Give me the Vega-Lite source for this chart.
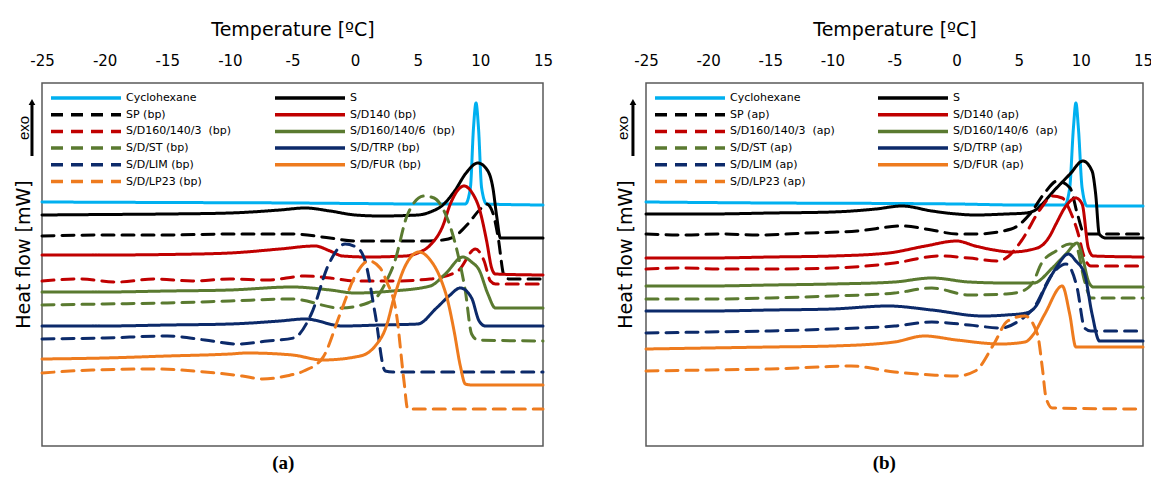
{
"$schema": "https://vega.github.io/schema/vega-lite/v6.json",
"background": "white",
"padding": {"left": 13, "top": 19, "right": 5, "bottom": 5},
"config": {"view": {"stroke": "#595959", "strokeWidth": 1.5}, "font": "DejaVu Sans"},
"spacing": 61,
"resolve": {"scale": {"color": "independent", "strokeDash": "independent"}, "legend": {"color": "independent", "strokeDash": "independent"}},
"datasets": {
"a": [
{"s":"Cyclohexane","t":-25,"v":244},{"s":"Cyclohexane","t":-15,"v":243.5},{"s":"Cyclohexane","t":-5,"v":243},{"s":"Cyclohexane","t":0,"v":242.5},{"s":"Cyclohexane","t":5,"v":242},{"s":"Cyclohexane","t":8.8,"v":242},{"s":"Cyclohexane","t":9.2,"v":258},{"s":"Cyclohexane","t":9.45,"v":318},{"s":"Cyclohexane","t":9.65,"v":343},{"s":"Cyclohexane","t":9.85,"v":318},{"s":"Cyclohexane","t":10.1,"v":258},{"s":"Cyclohexane","t":10.5,"v":242},{"s":"Cyclohexane","t":15,"v":241},
{"s":"S","t":-25,"v":231},{"s":"S","t":-20,"v":231.5},{"s":"S","t":-15,"v":232},{"s":"S","t":-10,"v":233},{"s":"S","t":-6,"v":236},{"s":"S","t":-4,"v":238},{"s":"S","t":-2,"v":235},{"s":"S","t":0,"v":231},{"s":"S","t":2,"v":230},{"s":"S","t":5,"v":231},{"s":"S","t":6,"v":234},{"s":"S","t":7,"v":241},{"s":"S","t":8,"v":256},{"s":"S","t":8.8,"v":272},{"s":"S","t":9.8,"v":283},{"s":"S","t":10.6,"v":275},{"s":"S","t":11,"v":258},{"s":"S","t":11.3,"v":230},{"s":"S","t":11.6,"v":208},{"s":"S","t":12.5,"v":208},{"s":"S","t":15,"v":208},
{"s":"SP (bp)","t":-25,"v":210},{"s":"SP (bp)","t":-20,"v":211},{"s":"SP (bp)","t":-15,"v":211},{"s":"SP (bp)","t":-10,"v":212},{"s":"SP (bp)","t":-5,"v":212},{"s":"SP (bp)","t":-2,"v":208},{"s":"SP (bp)","t":0,"v":205},{"s":"SP (bp)","t":3,"v":205},{"s":"SP (bp)","t":5.5,"v":205},{"s":"SP (bp)","t":7,"v":206},{"s":"SP (bp)","t":8,"v":210},{"s":"SP (bp)","t":9,"v":222},{"s":"SP (bp)","t":10,"v":237},{"s":"SP (bp)","t":10.5,"v":242},{"s":"SP (bp)","t":11,"v":233},{"s":"SP (bp)","t":11.4,"v":210},{"s":"SP (bp)","t":11.9,"v":170},{"s":"SP (bp)","t":12.3,"v":167},{"s":"SP (bp)","t":15,"v":167},
{"s":"S/D140 (bp)","t":-25,"v":191},{"s":"S/D140 (bp)","t":-20,"v":191},{"s":"S/D140 (bp)","t":-15,"v":191.5},{"s":"S/D140 (bp)","t":-10,"v":193},{"s":"S/D140 (bp)","t":-6,"v":197},{"s":"S/D140 (bp)","t":-3.2,"v":200},{"s":"S/D140 (bp)","t":-2,"v":195},{"s":"S/D140 (bp)","t":-1,"v":190},{"s":"S/D140 (bp)","t":1,"v":189},{"s":"S/D140 (bp)","t":4,"v":190},{"s":"S/D140 (bp)","t":5,"v":193},{"s":"S/D140 (bp)","t":6,"v":201},{"s":"S/D140 (bp)","t":7,"v":220},{"s":"S/D140 (bp)","t":7.6,"v":242},{"s":"S/D140 (bp)","t":8.7,"v":260},{"s":"S/D140 (bp)","t":9.4,"v":252},{"s":"S/D140 (bp)","t":9.9,"v":238},{"s":"S/D140 (bp)","t":10.5,"v":205},{"s":"S/D140 (bp)","t":10.9,"v":178},{"s":"S/D140 (bp)","t":11.2,"v":172},{"s":"S/D140 (bp)","t":15,"v":171},
{"s":"S/D160/140/3\u00a0 (bp)","t":-25,"v":165},{"s":"S/D160/140/3\u00a0 (bp)","t":-22,"v":167},{"s":"S/D160/140/3\u00a0 (bp)","t":-19,"v":164},{"s":"S/D160/140/3\u00a0 (bp)","t":-16,"v":167},{"s":"S/D160/140/3\u00a0 (bp)","t":-13,"v":165},{"s":"S/D160/140/3\u00a0 (bp)","t":-10,"v":167},{"s":"S/D160/140/3\u00a0 (bp)","t":-7,"v":166},{"s":"S/D160/140/3\u00a0 (bp)","t":-4,"v":170},{"s":"S/D160/140/3\u00a0 (bp)","t":-2,"v":168},{"s":"S/D160/140/3\u00a0 (bp)","t":0,"v":165},{"s":"S/D160/140/3\u00a0 (bp)","t":3,"v":165},{"s":"S/D160/140/3\u00a0 (bp)","t":6,"v":167},{"s":"S/D160/140/3\u00a0 (bp)","t":8.2,"v":175},{"s":"S/D160/140/3\u00a0 (bp)","t":9.6,"v":197},{"s":"S/D160/140/3\u00a0 (bp)","t":10.3,"v":185},{"s":"S/D160/140/3\u00a0 (bp)","t":10.8,"v":165},{"s":"S/D160/140/3\u00a0 (bp)","t":11.2,"v":162},{"s":"S/D160/140/3\u00a0 (bp)","t":15,"v":162},
{"s":"S/D160/140/6\u00a0 (bp)","t":-25,"v":154},{"s":"S/D160/140/6\u00a0 (bp)","t":-20,"v":154},{"s":"S/D160/140/6\u00a0 (bp)","t":-15,"v":155},{"s":"S/D160/140/6\u00a0 (bp)","t":-10,"v":156},{"s":"S/D160/140/6\u00a0 (bp)","t":-5,"v":159},{"s":"S/D160/140/6\u00a0 (bp)","t":-2,"v":156},{"s":"S/D160/140/6\u00a0 (bp)","t":0,"v":153},{"s":"S/D160/140/6\u00a0 (bp)","t":3,"v":155},{"s":"S/D160/140/6\u00a0 (bp)","t":6,"v":160},{"s":"S/D160/140/6\u00a0 (bp)","t":7.2,"v":172},{"s":"S/D160/140/6\u00a0 (bp)","t":8.6,"v":189},{"s":"S/D160/140/6\u00a0 (bp)","t":9.3,"v":184},{"s":"S/D160/140/6\u00a0 (bp)","t":9.9,"v":176},{"s":"S/D160/140/6\u00a0 (bp)","t":10.6,"v":152},{"s":"S/D160/140/6\u00a0 (bp)","t":11.2,"v":138},{"s":"S/D160/140/6\u00a0 (bp)","t":15,"v":138},
{"s":"S/D/ST (bp)","t":-25,"v":141},{"s":"S/D/ST (bp)","t":-20,"v":142},{"s":"S/D/ST (bp)","t":-15,"v":143},{"s":"S/D/ST (bp)","t":-10,"v":145},{"s":"S/D/ST (bp)","t":-5,"v":147},{"s":"S/D/ST (bp)","t":-1.2,"v":138},{"s":"S/D/ST (bp)","t":1,"v":143},{"s":"S/D/ST (bp)","t":1.8,"v":150},{"s":"S/D/ST (bp)","t":2.5,"v":165},{"s":"S/D/ST (bp)","t":3.1,"v":182},{"s":"S/D/ST (bp)","t":4.2,"v":232},{"s":"S/D/ST (bp)","t":5.5,"v":250},{"s":"S/D/ST (bp)","t":6.3,"v":248},{"s":"S/D/ST (bp)","t":7.1,"v":235},{"s":"S/D/ST (bp)","t":8.2,"v":192},{"s":"S/D/ST (bp)","t":8.8,"v":155},{"s":"S/D/ST (bp)","t":9.3,"v":112},{"s":"S/D/ST (bp)","t":9.8,"v":106},{"s":"S/D/ST (bp)","t":15,"v":105},
{"s":"S/D/TRP (bp)","t":-25,"v":120},{"s":"S/D/TRP (bp)","t":-20,"v":120},{"s":"S/D/TRP (bp)","t":-15,"v":121},{"s":"S/D/TRP (bp)","t":-10,"v":122},{"s":"S/D/TRP (bp)","t":-6,"v":125},{"s":"S/D/TRP (bp)","t":-4,"v":127},{"s":"S/D/TRP (bp)","t":-1,"v":120},{"s":"S/D/TRP (bp)","t":2,"v":121},{"s":"S/D/TRP (bp)","t":5,"v":122},{"s":"S/D/TRP (bp)","t":6.5,"v":138},{"s":"S/D/TRP (bp)","t":7.5,"v":150},{"s":"S/D/TRP (bp)","t":8.4,"v":158},{"s":"S/D/TRP (bp)","t":9.3,"v":148},{"s":"S/D/TRP (bp)","t":9.9,"v":125},{"s":"S/D/TRP (bp)","t":10.4,"v":120},{"s":"S/D/TRP (bp)","t":15,"v":120},
{"s":"S/D/LIM (bp)","t":-25,"v":107},{"s":"S/D/LIM (bp)","t":-20,"v":108},{"s":"S/D/LIM (bp)","t":-15,"v":110},{"s":"S/D/LIM (bp)","t":-12,"v":106},{"s":"S/D/LIM (bp)","t":-9.4,"v":102},{"s":"S/D/LIM (bp)","t":-7,"v":105},{"s":"S/D/LIM (bp)","t":-4.9,"v":108},{"s":"S/D/LIM (bp)","t":-3.5,"v":132},{"s":"S/D/LIM (bp)","t":-2.1,"v":182},{"s":"S/D/LIM (bp)","t":-0.8,"v":202},{"s":"S/D/LIM (bp)","t":0.2,"v":198},{"s":"S/D/LIM (bp)","t":0.8,"v":185},{"s":"S/D/LIM (bp)","t":1.6,"v":132},{"s":"S/D/LIM (bp)","t":2.4,"v":75},{"s":"S/D/LIM (bp)","t":3,"v":74},{"s":"S/D/LIM (bp)","t":15,"v":74},
{"s":"S/D/FUR (bp)","t":-25,"v":87},{"s":"S/D/FUR (bp)","t":-20,"v":88},{"s":"S/D/FUR (bp)","t":-15,"v":90},{"s":"S/D/FUR (bp)","t":-10,"v":92},{"s":"S/D/FUR (bp)","t":-8.6,"v":93},{"s":"S/D/FUR (bp)","t":-5,"v":91},{"s":"S/D/FUR (bp)","t":-2.6,"v":86},{"s":"S/D/FUR (bp)","t":0,"v":89},{"s":"S/D/FUR (bp)","t":1,"v":93},{"s":"S/D/FUR (bp)","t":1.6,"v":100},{"s":"S/D/FUR (bp)","t":2.5,"v":120},{"s":"S/D/FUR (bp)","t":3.1,"v":148},{"s":"S/D/FUR (bp)","t":4,"v":180},{"s":"S/D/FUR (bp)","t":5.1,"v":194},{"s":"S/D/FUR (bp)","t":6,"v":186},{"s":"S/D/FUR (bp)","t":6.8,"v":168},{"s":"S/D/FUR (bp)","t":7.4,"v":145},{"s":"S/D/FUR (bp)","t":7.9,"v":115},{"s":"S/D/FUR (bp)","t":8.4,"v":80},{"s":"S/D/FUR (bp)","t":8.8,"v":62},{"s":"S/D/FUR (bp)","t":9.3,"v":61},{"s":"S/D/FUR (bp)","t":15,"v":61},
{"s":"S/D/LP23 (bp)","t":-25,"v":73},{"s":"S/D/LP23 (bp)","t":-21,"v":76},{"s":"S/D/LP23 (bp)","t":-16,"v":77},{"s":"S/D/LP23 (bp)","t":-12,"v":74},{"s":"S/D/LP23 (bp)","t":-9,"v":70},{"s":"S/D/LP23 (bp)","t":-7.4,"v":67},{"s":"S/D/LP23 (bp)","t":-5.5,"v":70},{"s":"S/D/LP23 (bp)","t":-4.1,"v":75},{"s":"S/D/LP23 (bp)","t":-2.6,"v":88},{"s":"S/D/LP23 (bp)","t":-1.2,"v":132},{"s":"S/D/LP23 (bp)","t":0,"v":170},{"s":"S/D/LP23 (bp)","t":1.1,"v":185},{"s":"S/D/LP23 (bp)","t":2,"v":178},{"s":"S/D/LP23 (bp)","t":2.5,"v":165},{"s":"S/D/LP23 (bp)","t":3.3,"v":132},{"s":"S/D/LP23 (bp)","t":3.9,"v":65},{"s":"S/D/LP23 (bp)","t":4.2,"v":37},{"s":"S/D/LP23 (bp)","t":4.6,"v":37},{"s":"S/D/LP23 (bp)","t":15,"v":37}
],
"b": [
{"s":"Cyclohexane","t":-25,"v":244},{"s":"Cyclohexane","t":-15,"v":243},{"s":"Cyclohexane","t":-5,"v":242.5},{"s":"Cyclohexane","t":0,"v":242},{"s":"Cyclohexane","t":5,"v":241},{"s":"Cyclohexane","t":8.7,"v":241},{"s":"Cyclohexane","t":9.1,"v":258},{"s":"Cyclohexane","t":9.4,"v":318},{"s":"Cyclohexane","t":9.6,"v":343},{"s":"Cyclohexane","t":9.8,"v":318},{"s":"Cyclohexane","t":10.1,"v":258},{"s":"Cyclohexane","t":10.5,"v":240},{"s":"Cyclohexane","t":15,"v":240},
{"s":"S","t":-25,"v":232},{"s":"S","t":-20,"v":232},{"s":"S","t":-15,"v":233},{"s":"S","t":-10,"v":234},{"s":"S","t":-6.5,"v":237},{"s":"S","t":-4.4,"v":240},{"s":"S","t":-2,"v":235},{"s":"S","t":0,"v":232},{"s":"S","t":1.5,"v":231},{"s":"S","t":4,"v":232},{"s":"S","t":5.6,"v":233},{"s":"S","t":6.2,"v":235},{"s":"S","t":7.96,"v":257},{"s":"S","t":9.13,"v":272},{"s":"S","t":10.16,"v":285},{"s":"S","t":10.9,"v":275},{"s":"S","t":11.19,"v":252},{"s":"S","t":11.48,"v":212},{"s":"S","t":12,"v":208},{"s":"S","t":15,"v":208},
{"s":"SP (ap)","t":-25,"v":212},{"s":"SP (ap)","t":-22,"v":211},{"s":"SP (ap)","t":-19,"v":212},{"s":"SP (ap)","t":-16,"v":211},{"s":"SP (ap)","t":-12,"v":213},{"s":"SP (ap)","t":-8,"v":215},{"s":"SP (ap)","t":-4.4,"v":220},{"s":"SP (ap)","t":-2,"v":216},{"s":"SP (ap)","t":0,"v":212},{"s":"SP (ap)","t":1.5,"v":212},{"s":"SP (ap)","t":4.4,"v":217},{"s":"SP (ap)","t":5.9,"v":232},{"s":"SP (ap)","t":7.08,"v":253},{"s":"SP (ap)","t":8.1,"v":265},{"s":"SP (ap)","t":9.13,"v":258},{"s":"SP (ap)","t":9.72,"v":232},{"s":"SP (ap)","t":10.3,"v":212},{"s":"SP (ap)","t":15,"v":212},
{"s":"S/D140 (ap)","t":-25,"v":188},{"s":"S/D140 (ap)","t":-20,"v":188},{"s":"S/D140 (ap)","t":-15,"v":189},{"s":"S/D140 (ap)","t":-10,"v":190},{"s":"S/D140 (ap)","t":-5.5,"v":193},{"s":"S/D140 (ap)","t":-2.5,"v":200},{"s":"S/D140 (ap)","t":0,"v":205},{"s":"S/D140 (ap)","t":1.5,"v":200},{"s":"S/D140 (ap)","t":3,"v":196},{"s":"S/D140 (ap)","t":4.4,"v":194},{"s":"S/D140 (ap)","t":6.5,"v":198},{"s":"S/D140 (ap)","t":7.5,"v":210},{"s":"S/D140 (ap)","t":8,"v":222},{"s":"S/D140 (ap)","t":8.8,"v":240},{"s":"S/D140 (ap)","t":9.6,"v":248},{"s":"S/D140 (ap)","t":10.1,"v":242},{"s":"S/D140 (ap)","t":10.6,"v":198},{"s":"S/D140 (ap)","t":11,"v":190},{"s":"S/D140 (ap)","t":15,"v":189},
{"s":"S/D160/140/3\u00a0 (ap)","t":-25,"v":177},{"s":"S/D160/140/3\u00a0 (ap)","t":-22,"v":178},{"s":"S/D160/140/3\u00a0 (ap)","t":-19,"v":177},{"s":"S/D160/140/3\u00a0 (ap)","t":-15,"v":177},{"s":"S/D160/140/3\u00a0 (ap)","t":-10,"v":178},{"s":"S/D160/140/3\u00a0 (ap)","t":-5,"v":183},{"s":"S/D160/140/3\u00a0 (ap)","t":-1.4,"v":190},{"s":"S/D160/140/3\u00a0 (ap)","t":1,"v":188},{"s":"S/D160/140/3\u00a0 (ap)","t":3.3,"v":185},{"s":"S/D160/140/3\u00a0 (ap)","t":4.2,"v":190},{"s":"S/D160/140/3\u00a0 (ap)","t":5.2,"v":205},{"s":"S/D160/140/3\u00a0 (ap)","t":6.8,"v":238},{"s":"S/D160/140/3\u00a0 (ap)","t":7.7,"v":250},{"s":"S/D160/140/3\u00a0 (ap)","t":8.5,"v":248},{"s":"S/D160/140/3\u00a0 (ap)","t":9.13,"v":235},{"s":"S/D160/140/3\u00a0 (ap)","t":9.72,"v":215},{"s":"S/D160/140/3\u00a0 (ap)","t":10.3,"v":188},{"s":"S/D160/140/3\u00a0 (ap)","t":10.8,"v":180},{"s":"S/D160/140/3\u00a0 (ap)","t":15,"v":180},
{"s":"S/D160/140/6\u00a0 (ap)","t":-25,"v":160},{"s":"S/D160/140/6\u00a0 (ap)","t":-20,"v":160},{"s":"S/D160/140/6\u00a0 (ap)","t":-15,"v":161},{"s":"S/D160/140/6\u00a0 (ap)","t":-10,"v":162},{"s":"S/D160/140/6\u00a0 (ap)","t":-5,"v":164},{"s":"S/D160/140/6\u00a0 (ap)","t":-2,"v":168},{"s":"S/D160/140/6\u00a0 (ap)","t":1,"v":164},{"s":"S/D160/140/6\u00a0 (ap)","t":4,"v":163},{"s":"S/D160/140/6\u00a0 (ap)","t":6.2,"v":163},{"s":"S/D160/140/6\u00a0 (ap)","t":7.7,"v":178},{"s":"S/D160/140/6\u00a0 (ap)","t":8.8,"v":192},{"s":"S/D160/140/6\u00a0 (ap)","t":9.7,"v":203},{"s":"S/D160/140/6\u00a0 (ap)","t":10.2,"v":185},{"s":"S/D160/140/6\u00a0 (ap)","t":10.6,"v":165},{"s":"S/D160/140/6\u00a0 (ap)","t":11,"v":159},{"s":"S/D160/140/6\u00a0 (ap)","t":15,"v":159},
{"s":"S/D/ST (ap)","t":-25,"v":147},{"s":"S/D/ST (ap)","t":-20,"v":147},{"s":"S/D/ST (ap)","t":-15,"v":148},{"s":"S/D/ST (ap)","t":-10,"v":150},{"s":"S/D/ST (ap)","t":-5,"v":153},{"s":"S/D/ST (ap)","t":-2,"v":158},{"s":"S/D/ST (ap)","t":1,"v":151},{"s":"S/D/ST (ap)","t":4,"v":152},{"s":"S/D/ST (ap)","t":5.3,"v":155},{"s":"S/D/ST (ap)","t":6.2,"v":165},{"s":"S/D/ST (ap)","t":6.8,"v":182},{"s":"S/D/ST (ap)","t":8,"v":195},{"s":"S/D/ST (ap)","t":9.1,"v":202},{"s":"S/D/ST (ap)","t":9.6,"v":200},{"s":"S/D/ST (ap)","t":10.3,"v":165},{"s":"S/D/ST (ap)","t":10.8,"v":148},{"s":"S/D/ST (ap)","t":15,"v":148},
{"s":"S/D/TRP (ap)","t":-25,"v":135},{"s":"S/D/TRP (ap)","t":-20,"v":135},{"s":"S/D/TRP (ap)","t":-15,"v":136},{"s":"S/D/TRP (ap)","t":-10,"v":137},{"s":"S/D/TRP (ap)","t":-5.5,"v":140},{"s":"S/D/TRP (ap)","t":-2,"v":136},{"s":"S/D/TRP (ap)","t":2.1,"v":130},{"s":"S/D/TRP (ap)","t":4,"v":131},{"s":"S/D/TRP (ap)","t":5.6,"v":133},{"s":"S/D/TRP (ap)","t":6.5,"v":142},{"s":"S/D/TRP (ap)","t":7.1,"v":158},{"s":"S/D/TRP (ap)","t":8,"v":178},{"s":"S/D/TRP (ap)","t":9,"v":192},{"s":"S/D/TRP (ap)","t":9.6,"v":185},{"s":"S/D/TRP (ap)","t":10.3,"v":172},{"s":"S/D/TRP (ap)","t":10.9,"v":132},{"s":"S/D/TRP (ap)","t":11.5,"v":105},{"s":"S/D/TRP (ap)","t":12,"v":105},{"s":"S/D/TRP (ap)","t":15,"v":105},
{"s":"S/D/LIM (ap)","t":-25,"v":113},{"s":"S/D/LIM (ap)","t":-20,"v":114},{"s":"S/D/LIM (ap)","t":-15,"v":115},{"s":"S/D/LIM (ap)","t":-10,"v":117},{"s":"S/D/LIM (ap)","t":-5,"v":120},{"s":"S/D/LIM (ap)","t":-2,"v":124},{"s":"S/D/LIM (ap)","t":1,"v":121},{"s":"S/D/LIM (ap)","t":3.6,"v":118},{"s":"S/D/LIM (ap)","t":5,"v":125},{"s":"S/D/LIM (ap)","t":6.2,"v":138},{"s":"S/D/LIM (ap)","t":7.7,"v":172},{"s":"S/D/LIM (ap)","t":8.8,"v":182},{"s":"S/D/LIM (ap)","t":9.7,"v":158},{"s":"S/D/LIM (ap)","t":10.3,"v":118},{"s":"S/D/LIM (ap)","t":10.8,"v":115},{"s":"S/D/LIM (ap)","t":15,"v":115},
{"s":"S/D/FUR (ap)","t":-25,"v":97},{"s":"S/D/FUR (ap)","t":-20,"v":98},{"s":"S/D/FUR (ap)","t":-15,"v":99},{"s":"S/D/FUR (ap)","t":-10,"v":100},{"s":"S/D/FUR (ap)","t":-5,"v":104},{"s":"S/D/FUR (ap)","t":-2.6,"v":110},{"s":"S/D/FUR (ap)","t":0,"v":106},{"s":"S/D/FUR (ap)","t":3.6,"v":102},{"s":"S/D/FUR (ap)","t":5.5,"v":104},{"s":"S/D/FUR (ap)","t":6.2,"v":112},{"s":"S/D/FUR (ap)","t":7.1,"v":132},{"s":"S/D/FUR (ap)","t":8.5,"v":160},{"s":"S/D/FUR (ap)","t":9.1,"v":132},{"s":"S/D/FUR (ap)","t":9.6,"v":99},{"s":"S/D/FUR (ap)","t":15,"v":99},
{"s":"S/D/LP23 (ap)","t":-25,"v":75},{"s":"S/D/LP23 (ap)","t":-20,"v":76},{"s":"S/D/LP23 (ap)","t":-15,"v":77},{"s":"S/D/LP23 (ap)","t":-11,"v":79},{"s":"S/D/LP23 (ap)","t":-8.5,"v":80},{"s":"S/D/LP23 (ap)","t":-5,"v":74},{"s":"S/D/LP23 (ap)","t":-2,"v":71},{"s":"S/D/LP23 (ap)","t":0,"v":70},{"s":"S/D/LP23 (ap)","t":1.5,"v":75},{"s":"S/D/LP23 (ap)","t":3,"v":102},{"s":"S/D/LP23 (ap)","t":4.1,"v":125},{"s":"S/D/LP23 (ap)","t":5.5,"v":130},{"s":"S/D/LP23 (ap)","t":6.5,"v":112},{"s":"S/D/LP23 (ap)","t":6.9,"v":78},{"s":"S/D/LP23 (ap)","t":7.2,"v":48},{"s":"S/D/LP23 (ap)","t":7.7,"v":38},{"s":"S/D/LP23 (ap)","t":15,"v":37}
]
},
"hconcat": [
{
"width": 501, "height": 363,
"title": {"text": "(a)", "orient": "bottom", "anchor": "middle", "frame": "bounds", "font": "Liberation Serif", "fontSize": 19, "fontWeight": "bold", "color": "black", "offset": 8},
"layer": [
{"data": {"name": "a"},
"mark": {"type": "line", "strokeWidth": 3, "strokeCap": "round", "interpolate": "monotone"},
"encoding": {
"x": {"field": "t", "type": "quantitative", "scale": {"domain": [-25, 15], "nice": false, "zero": false},
"axis": {"orient": "top", "title": "Temperature [ºC]", "values": [-25,-20,-15,-10,-5,0,5,10,15], "labelExpr": "toString(datum.value)", "domain": false, "ticks": false, "tickSize": 0, "grid": false, "labelFont": "DejaVu Sans", "labelFontSize": 15, "labelColor": "black", "labelPadding": 15, "labelFlush": false, "labelOverlap": false, "titleFont": "DejaVu Sans", "titleFontSize": 19, "titleFontWeight": "normal", "titleColor": "black", "titlePadding": 14}},
"y": {"field": "v", "type": "quantitative", "scale": {"domain": [0, 363], "nice": false, "zero": false},
"axis": {"title": "Heat flow [mW]", "labels": false, "ticks": false, "domain": false, "grid": false, "titleFont": "DejaVu Sans", "titleFontSize": 19, "titleFontWeight": "normal", "titleColor": "black", "titlePadding": 9, "titleY": 171}},
"color": {"field": "s", "type": "nominal",
"scale": {"domain": ["Cyclohexane","S","SP (bp)","S/D140 (bp)","S/D160/140/3\u00a0 (bp)","S/D160/140/6\u00a0 (bp)","S/D/ST (bp)","S/D/TRP (bp)","S/D/LIM (bp)","S/D/FUR (bp)","S/D/LP23 (bp)"],
"range": ["#00B0F0","#000000","#000000","#C00000","#C00000","#5A7A30","#5A7A30","#0C2A6A","#0C2A6A","#EE7B1E","#EE7B1E"]},
"legend": {"title": null, "orient": "none", "legendX": 9, "legendY": 6, "direction": "horizontal", "columns": 2, "columnPadding": 36, "rowPadding": 0.7, "symbolType": "M-5,0H5", "symbolSize": 196, "symbolStrokeWidth": 3.5, "symbolOffset": 26, "labelFont": "DejaVu Sans", "labelFontSize": 11, "labelColor": "black", "labelOffset": 31, "labelLimit": 300, "padding": 0}},
"strokeDash": {"field": "s", "type": "nominal",
"scale": {"domain": ["Cyclohexane","S","SP (bp)","S/D140 (bp)","S/D160/140/3\u00a0 (bp)","S/D160/140/6\u00a0 (bp)","S/D/ST (bp)","S/D/TRP (bp)","S/D/LIM (bp)","S/D/FUR (bp)","S/D/LP23 (bp)"],
"range": [[1,0],[1,0],[12,8],[1,0],[12,8],[1,0],[12,8],[1,0],[12,8],[1,0],[12,8]]}}
}},
{"data": {"values": [{"label": "exo"}]},
"mark": {"type": "rule", "strokeWidth": 3, "color": "black"},
"encoding": {"x": {"datum": -25.8, "type": "quantitative"}, "y": {"datum": 290, "type": "quantitative"}, "y2": {"datum": 342}}},
{"data": {"values": [{"label": "exo"}]},
"mark": {"type": "point", "shape": "triangle-up", "filled": true, "color": "black", "size": 45, "opacity": 1},
"encoding": {"x": {"datum": -25.8, "type": "quantitative"}, "y": {"datum": 344, "type": "quantitative"}}},
{"data": {"values": [{"label": "exo"}]},
"mark": {"type": "text", "angle": 270, "font": "Liberation Sans", "fontSize": 15, "color": "black", "align": "center", "baseline": "middle"},
"encoding": {"x": {"datum": -26.46, "type": "quantitative"}, "y": {"datum": 318, "type": "quantitative"}, "text": {"field": "label"}}}
]
},
{
"width": 497, "height": 363,
"title": {"text": "(b)", "orient": "bottom", "anchor": "middle", "frame": "bounds", "font": "Liberation Serif", "fontSize": 19, "fontWeight": "bold", "color": "black", "offset": 8},
"layer": [
{"data": {"name": "b"},
"mark": {"type": "line", "strokeWidth": 3, "strokeCap": "round", "interpolate": "monotone"},
"encoding": {
"x": {"field": "t", "type": "quantitative", "scale": {"domain": [-25, 15], "nice": false, "zero": false},
"axis": {"orient": "top", "title": "Temperature [ºC]", "values": [-25,-20,-15,-10,-5,0,5,10,15], "labelExpr": "toString(datum.value)", "domain": false, "ticks": false, "tickSize": 0, "grid": false, "labelFont": "DejaVu Sans", "labelFontSize": 15, "labelColor": "black", "labelPadding": 15, "labelFlush": false, "labelOverlap": false, "titleFont": "DejaVu Sans", "titleFontSize": 19, "titleFontWeight": "normal", "titleColor": "black", "titlePadding": 14}},
"y": {"field": "v", "type": "quantitative", "scale": {"domain": [0, 363], "nice": false, "zero": false},
"axis": {"title": "Heat flow [mW]", "labels": false, "ticks": false, "domain": false, "grid": false, "titleFont": "DejaVu Sans", "titleFontSize": 19, "titleFontWeight": "normal", "titleColor": "black", "titlePadding": 11, "titleY": 171}},
"color": {"field": "s", "type": "nominal",
"scale": {"domain": ["Cyclohexane","S","SP (ap)","S/D140 (ap)","S/D160/140/3\u00a0 (ap)","S/D160/140/6\u00a0 (ap)","S/D/ST (ap)","S/D/TRP (ap)","S/D/LIM (ap)","S/D/FUR (ap)","S/D/LP23 (ap)"],
"range": ["#00B0F0","#000000","#000000","#C00000","#C00000","#5A7A30","#5A7A30","#0C2A6A","#0C2A6A","#EE7B1E","#EE7B1E"]},
"legend": {"title": null, "orient": "none", "legendX": 9, "legendY": 6, "direction": "horizontal", "columns": 2, "columnPadding": 36, "rowPadding": 0.7, "symbolType": "M-5,0H5", "symbolSize": 196, "symbolStrokeWidth": 3.5, "symbolOffset": 26, "labelFont": "DejaVu Sans", "labelFontSize": 11, "labelColor": "black", "labelOffset": 31, "labelLimit": 300, "padding": 0}},
"strokeDash": {"field": "s", "type": "nominal",
"scale": {"domain": ["Cyclohexane","S","SP (ap)","S/D140 (ap)","S/D160/140/3\u00a0 (ap)","S/D160/140/6\u00a0 (ap)","S/D/ST (ap)","S/D/TRP (ap)","S/D/LIM (ap)","S/D/FUR (ap)","S/D/LP23 (ap)"],
"range": [[1,0],[1,0],[12,8],[1,0],[12,8],[1,0],[12,8],[1,0],[12,8],[1,0],[12,8]]}}
}},
{"data": {"values": [{"label": "exo"}]},
"mark": {"type": "rule", "strokeWidth": 3, "color": "black"},
"encoding": {"x": {"datum": -26.05, "type": "quantitative"}, "y": {"datum": 290, "type": "quantitative"}, "y2": {"datum": 342}}},
{"data": {"values": [{"label": "exo"}]},
"mark": {"type": "point", "shape": "triangle-up", "filled": true, "color": "black", "size": 45, "opacity": 1},
"encoding": {"x": {"datum": -26.05, "type": "quantitative"}, "y": {"datum": 344, "type": "quantitative"}}},
{"data": {"values": [{"label": "exo"}]},
"mark": {"type": "text", "angle": 270, "font": "Liberation Sans", "fontSize": 15, "color": "black", "align": "center", "baseline": "middle"},
"encoding": {"x": {"datum": -26.85, "type": "quantitative"}, "y": {"datum": 318, "type": "quantitative"}, "text": {"field": "label"}}}
]
}
]
}
